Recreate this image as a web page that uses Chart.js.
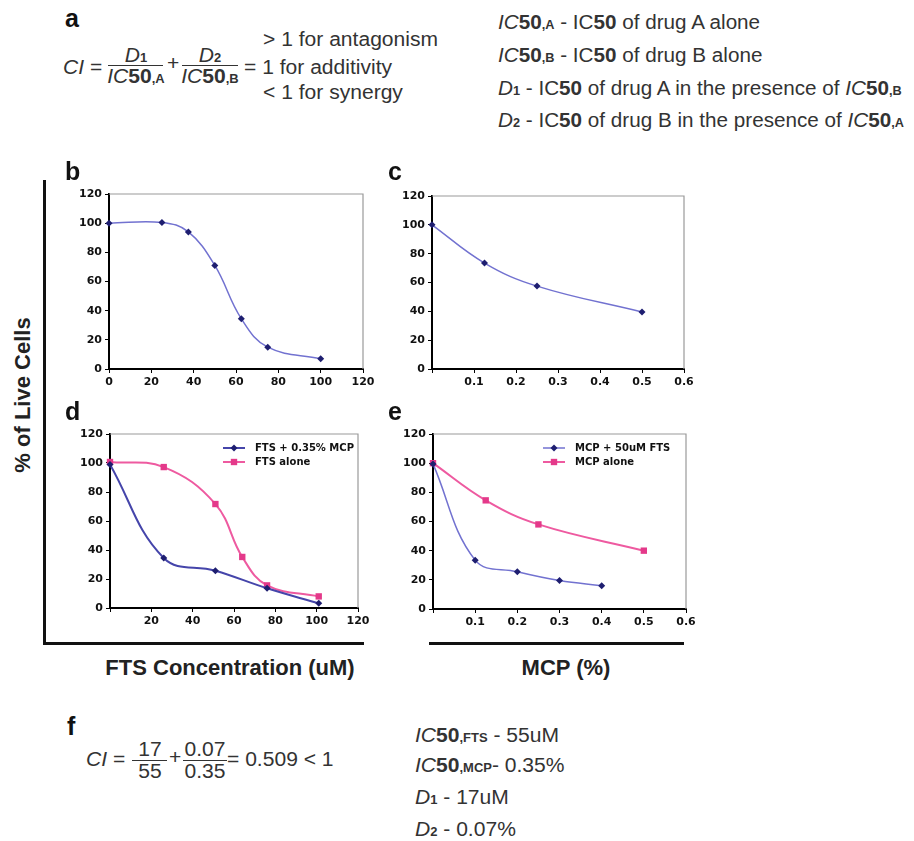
<!DOCTYPE html>
<html>
<head>
<meta charset="utf-8">
<script src="https://cdn.jsdelivr.net/npm/chart.js@4/dist/chart.umd.min.js"></script>
<style>
  body { margin: 0; background: #fff; }
  #page { position: relative; width: 914px; height: 841px; overflow: hidden; font-family: "Liberation Sans", Arial, sans-serif; color: #333; }
  #page canvas { position: absolute; }
  .t { position: absolute; white-space: nowrap; line-height: 1; transform-origin: 0 0; }
  .bar { position: absolute; height: 1.4px; background: #333; }
  .line { position: absolute; background: #111; }
  i { font-style: italic; }
</style>
</head>
<body>
<div id="page">
  <canvas id="chartB" width="325" height="213"></canvas>
  <canvas id="chartC" width="323" height="211"></canvas>
  <canvas id="chartD" width="319" height="212"></canvas>
  <canvas id="chartE" width="324" height="213"></canvas>
</div>
<script>
// panel b - FTS alone
const bDose = [0, 25, 37.5, 50, 62.5, 75, 100];
const bLive = [100, 100.5, 94, 71, 34.5, 15, 7];

// panel c - MCP alone
const cDose = [0, 0.125, 0.25, 0.5];
const cLive = [100, 73.5, 57.5, 39.5];

// panel d - FTS with and without MCP
const dLabels = ["FTS + 0.35% MCP", "FTS alone"];
const dComboDose = [0, 26, 51, 76, 101];
const dComboLive = [99, 34.5, 25.7, 13.6, 3.2];
const dAloneDose = [0, 26, 51, 64, 76, 101];
const dAloneLive = [100.7, 97.2, 71.7, 35.2, 15.6, 8];

// panel e - MCP with and without FTS
const eLabels = ["MCP + 50uM FTS", "MCP alone"];
const eComboDose = [0, 0.1, 0.2, 0.3, 0.4];
const eComboLive = [99.5, 33.5, 25.5, 19.5, 16];
const eAloneDose = [0, 0.125, 0.25, 0.5];
const eAloneLive = [100, 74.5, 58, 40];

// tick labels
const liveTicks = [0, 20, 40, 60, 80, 100, 120];
const ftsTicks = [0, 20, 40, 60, 80, 100, 120];
const mcpTicks = [0, 0.1, 0.2, 0.3, 0.4, 0.5, 0.6];

const page = document.getElementById("page");

// put a piece of text with its baseline at y
function txt(x, base, size, html, opt) {
  opt = opt || {};
  const d = document.createElement("div");
  d.className = "t";
  d.innerHTML = html;
  d.style.fontSize = size + "px";
  d.style.top = (base - 0.85 * size) + "px";
  d.style.left = x + "px";
  if (opt.bold) d.style.fontWeight = "bold";
  if (opt.color) d.style.color = opt.color;
  const sx = opt.sx || 1;
  if (opt.center) {
    d.style.transform = "translateX(-50%) scaleX(" + sx + ")";
    d.style.transformOrigin = "50% 0";
  } else {
    d.style.transform = "scaleX(" + sx + ")";
  }
  page.appendChild(d);
  return d;
}
function bar(x1, x2, y) {
  const d = document.createElement("div");
  d.className = "bar";
  d.style.left = x1 + "px";
  d.style.width = (x2 - x1) + "px";
  d.style.top = y + "px";
  page.appendChild(d);
}
function rule(x, y, w, h) {
  const d = document.createElement("div");
  d.className = "line";
  d.style.left = x + "px"; d.style.top = y + "px";
  d.style.width = w + "px"; d.style.height = h + "px";
  page.appendChild(d);
}

const FS = 19.5, SX = 1.08, SX2 = 1.06;
const sub = (s) => `<b style="font-size:12px">${s}</b>`;
const ic = (s) => `<i>IC</i><b>50</b>${sub("," + s)}`;

// ---- panel a text ----
txt(65, 27, 25, "a", { bold: true, color: "#111" });
txt(63, 75, FS, "<i>CI</i> =", { sx: SX });
txt(135.5, 63, FS, "<i>D</i>" + sub("1"), { sx: SX, center: true });
bar(108, 163, 65);
txt(135.5, 84, FS, ic("A"), { sx: SX, center: true });
txt(167, 71, FS, "+", { sx: SX });
txt(210, 63, FS, "<i>D</i>" + sub("2"), { sx: SX, center: true });
bar(182, 238, 65);
txt(210, 84, FS, ic("B"), { sx: SX, center: true });
txt(244, 75, FS, "= 1 for additivity", { sx: SX });
txt(263, 47, FS, "&gt; 1 for antagonism", { sx: SX });
txt(263, 100, FS, "&lt; 1 for synergy", { sx: SX });

txt(498, 30, FS, ic("A") + " - IC<b>50</b> of drug A alone", { sx: SX2 });
txt(498, 63, FS, ic("B") + " - IC<b>50</b> of drug B alone", { sx: SX2 });
txt(498, 96, FS, "<i>D</i>" + sub("1") + " - IC<b>50</b> of drug A in the presence of " + ic("B"), { sx: SX2 });
txt(498, 128, FS, "<i>D</i>" + sub("2") + " - IC<b>50</b> of drug B in the presence of " + ic("A"), { sx: SX2 });

// ---- panel f text ----
txt(67, 735, 25, "f", { bold: true, color: "#111" });
txt(86, 767, FS, "<i>CI</i> =", { sx: SX });
txt(149.5, 757, FS, "17", { sx: SX, center: true });
bar(132, 167, 760);
txt(149.5, 779, FS, "55", { sx: SX, center: true });
txt(169, 765, FS, "+", { sx: SX });
txt(205, 757, FS, "0.07", { sx: SX, center: true });
bar(183, 227, 760);
txt(205, 779, FS, "0.35", { sx: SX, center: true });
txt(227, 767, FS, "= 0.509 &lt; 1", { sx: SX });

txt(415, 743, FS, "<i>IC</i><b>50</b>" + sub(",FTS") + " - 55uM", { sx: SX });
txt(415, 773, FS, "<i>IC</i><b>50</b>" + sub(",MCP") + "- 0.35%", { sx: SX });
txt(415, 805, FS, "<i>D</i>" + sub("1") + " - 17uM", { sx: SX });
txt(415, 837, FS, "<i>D</i>" + sub("2") + " - 0.07%", { sx: SX });

// ---- panel letters and shared axis titles ----
txt(65, 180, 25, "b", { bold: true, color: "#111" });
txt(388, 180, 25, "c", { bold: true, color: "#111" });
txt(65, 420, 25, "d", { bold: true, color: "#111" });
txt(388, 420, 25, "e", { bold: true, color: "#111" });
txt(230, 676, 22, "FTS Concentration (uM)", { bold: true, center: true, color: "#222" });
txt(566, 676, 22, "MCP (%)", { bold: true, center: true, color: "#222" });
const yt = txt(0, 0, 22, "% of Live Cells", { bold: true, color: "#222" });
yt.style.left = "23px"; yt.style.top = "395px";
yt.style.transformOrigin = "0 0";
yt.style.transform = "rotate(-90deg) translate(-50%, -50%)";

rule(43, 180, 3, 465);
rule(43, 642, 321, 3);
rule(429, 642, 255, 3);

// ---- charts ----
Chart.defaults.font.family = "DejaVu Sans";
Chart.defaults.font.size = 11;
Chart.defaults.font.weight = "bold";
Chart.defaults.color = "#111";

// thin grey box on top and right of plot area
const frame = {
  id: "frame",
  beforeDatasetsDraw(chart) {
    const a = chart.chartArea, ctx = chart.ctx;
    ctx.save();
    ctx.strokeStyle = "#9a9a9a";
    ctx.lineWidth = 1.2;
    ctx.beginPath();
    ctx.moveTo(a.left, a.top);
    ctx.lineTo(a.right, a.top);
    ctx.lineTo(a.right, a.bottom);
    ctx.stroke();
    ctx.restore();
  },
};

// legend drawn inside the plot like the excel one
const inlineLegend = {
  id: "inlineLegend",
  afterDraw(chart, args, opts) {
    if (!opts.show) return;
    const ctx = chart.ctx, a = chart.chartArea;
    chart.data.datasets.forEach((ds, i) => {
      const x = a.left + opts.x, y = a.top + opts.y + i * 14;
      ctx.save();
      ctx.strokeStyle = ds.borderColor;
      ctx.lineWidth = ds.borderWidth;
      ctx.beginPath();
      ctx.moveTo(x, y);
      ctx.lineTo(x + 22, y);
      ctx.stroke();
      ctx.fillStyle = ds.pointBackgroundColor;
      ctx.strokeStyle = ds.pointBorderColor;
      Chart.helpers.drawPoint(ctx, { pointStyle: ds.pointStyle, radius: ds.pointRadius, rotation: 0, borderWidth: 0 }, x + 11, y);
      ctx.fillStyle = "#111";
      ctx.font = "bold 10px 'DejaVu Sans'";
      ctx.textBaseline = "middle";
      ctx.fillText(ds.label, x + 32, y + 0.5);
      ctx.restore();
    });
  },
};

const pts = (xs, ys) => xs.map((x, i) => ({ x: x, y: ys[i] }));

function series(label, xs, ys, kind) {
  const blue = kind === "blue" || kind === "darkblue";
  return {
    label: label,
    data: pts(xs, ys),
    borderColor: kind === "blue" ? "#7272d0" : kind === "darkblue" ? "#4545aa" : "#ee5aa0",
    borderWidth: kind === "blue" ? 1.5 : 2,
    pointStyle: blue ? "rectRot" : "rect",
    pointRadius: blue ? 3.5 : 4.5,
    pointBackgroundColor: blue ? "#1e1e70" : "#e4398a",
    pointBorderColor: blue ? "#1e1e70" : "#e4398a",
    pointBorderWidth: 0,
    tension: 0.4,
    clip: false,
  };
}

function axis(ticksArr, hideZero, fmt) {
  return {
    type: "linear",
    min: ticksArr[0],
    max: ticksArr[ticksArr.length - 1],
    afterBuildTicks: (s) => { s.ticks = ticksArr.map((v) => ({ value: v })); },
    border: { color: "#000", width: 2 },
    grid: { drawOnChartArea: false, drawTicks: true, tickLength: 4, color: "#000", lineWidth: 1 },
    ticks: {
      padding: 3,
      autoSkip: false,
      maxRotation: 0,
      callback: (v) => (hideZero && v === 0 ? "" : fmt(v)),
    },
  };
}

// place chart so that its plot area sits at l,t,r,b on the page
function makePanel(id, area, datasets, xTicks, hideZero, fmt, legend) {
  const cv = document.getElementById(id);
  const padL = 55, padT = 12, padR = 16, padB = 26;
  cv.width = area.r - area.l + padL + padR;
  cv.height = area.b - area.t + padT + padB;
  cv.style.left = (area.l - padL) + "px";
  cv.style.top = (area.t - padT) + "px";
  const x = axis(xTicks, hideZero, fmt);
  x.afterFit = (s) => { s.height = padB; };
  const y = axis(liveTicks, false, (v) => v);
  y.afterFit = (s) => { s.width = padL; };
  new Chart(cv, {
    type: "line",
    data: { datasets: datasets },
    options: {
      responsive: false,
      animation: false,
      layout: { padding: { top: padT, right: padR, left: 0, bottom: 0 } },
      scales: { x: x, y: y },
      plugins: {
        legend: { display: false },
        tooltip: { enabled: false },
        inlineLegend: legend || { show: false },
      },
    },
    plugins: [frame, inlineLegend],
  });
}

const fmtFts = (v) => v;
const fmtMcp = (v) => (+v).toFixed(1);

makePanel("chartB", { l: 109, t: 194, r: 363, b: 369 },
  [series("FTS", bDose, bLive, "blue")], ftsTicks, false, fmtFts);

makePanel("chartC", { l: 432, t: 196, r: 684, b: 369 },
  [series("MCP", cDose, cLive, "blue")], mcpTicks, true, fmtMcp);

makePanel("chartD", { l: 110, t: 434, r: 358, b: 608 },
  [series(dLabels[0], dComboDose, dComboLive, "darkblue"), series(dLabels[1], dAloneDose, dAloneLive, "pink")],
  ftsTicks, true, fmtFts, { show: true, x: 113, y: 14 });

makePanel("chartE", { l: 433, t: 434, r: 686, b: 609 },
  [series(eLabels[0], eComboDose, eComboLive, "blue"), series(eLabels[1], eAloneDose, eAloneLive, "pink")],
  mcpTicks, true, fmtMcp, { show: true, x: 110, y: 14 });
</script>
</body>
</html>
